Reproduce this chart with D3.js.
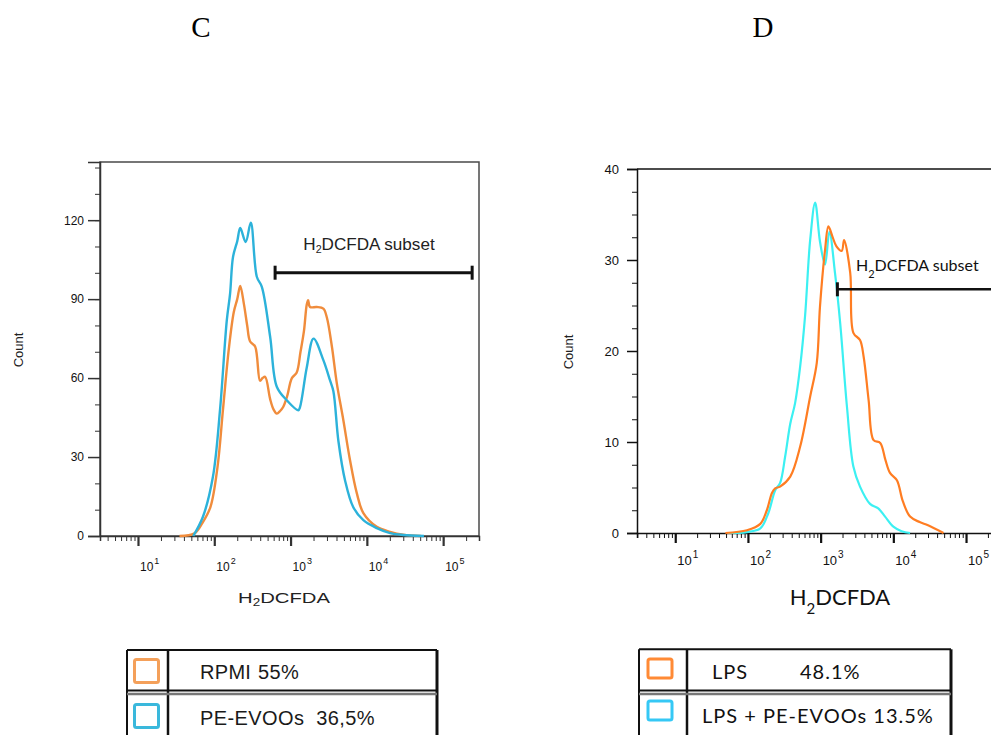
<!DOCTYPE html>
<html>
<head>
<meta charset="utf-8">
<script src="https://cdn.jsdelivr.net/npm/d3@7"></script>
<style>
  body { margin: 0; background: #fff; }
  svg { display: block; }
</style>
</head>
<body>
<svg id="canvas" width="991" height="735"></svg>
<script>
// panel C : H2DCFDA intensity (x) and cell count (y)
const rpmiX = [35, 55, 70, 89, 110, 130, 155, 180, 200, 219, 245, 270, 294, 343, 398, 430, 464, 540, 600, 660, 730, 800, 900, 1040, 1200, 1350, 1500, 1630, 1700, 1800, 2200, 2690, 2990, 3480, 4040, 4920, 6000, 7380, 9000, 13500, 20200, 30000, 51000];
const rpmiY = [0, 1, 5, 11, 26, 48, 71, 85, 90, 95, 88, 80, 74, 72, 59, 60, 60.5, 52, 48, 46.5, 47.5, 49, 53, 60, 62, 70, 78, 88, 89.6, 87, 87, 86.4, 83, 72, 58, 44, 29, 16.3, 8.7, 3.5, 1.6, 0.5, 0];
const evooX = [53, 71, 96, 119, 146, 161, 176, 200, 219, 258, 301, 361, 420, 540, 660, 890, 1260, 1330, 1630, 2000, 2690, 3300, 3640, 4240, 5190, 6620, 9000, 13500, 20200, 30000, 56000];
const evooY = [0, 7.3, 22.5, 48, 82, 92, 106, 112, 117, 111.7, 119, 98.5, 94.7, 75.7, 56.7, 51.6, 47.8, 49, 64, 75, 66.8, 59, 55, 36, 21, 11, 6, 3, 1.1, 0.4, 0];

// panel D
const lpsX = [49, 97, 148, 182, 214, 237, 277, 382, 523, 718, 885, 980, 1150, 1280, 1450, 1650, 1950, 2100, 2550, 2820, 3480, 3900, 4570, 5350, 6600, 7800, 9000, 11200, 13500, 17000, 23000, 30000, 49000];
const lpsY = [0, 0.3, 1, 2.5, 4.4, 4.9, 5.1, 6.2, 9.5, 15, 18.7, 24.9, 31.1, 33.7, 32.6, 31.5, 31, 32.2, 28.6, 22, 21.2, 19.4, 14.6, 10.2, 9.9, 8, 6.6, 5.8, 3.5, 1.8, 1.2, 0.85, 0];
const lpsEvooX = [52, 97, 148, 191, 237, 277, 325, 382, 446, 523, 610, 718, 840, 980, 1150, 1320, 1580, 1860, 2300, 2820, 3480, 4780, 6200, 7700, 10000, 13000, 17000];
const lpsEvooY = [0, 0.1, 0.5, 2.2, 4.7, 5.5, 8.4, 12, 14.3, 18.3, 23.8, 32.2, 36.3, 32, 29.5, 33.1, 28.5, 23, 13.9, 7.3, 5.1, 3.2, 2.7, 1.8, 0.7, 0.2, 0];

const countTicksC = [0, 30, 60, 90, 120];
const countTicksD = [0, 10, 20, 30, 40];
const decades = [1, 2, 3, 4, 5];
const legendC = ["RPMI 55%", "PE-EVOOs 36,5%"];
const legendD = [["LPS", "48.1%"], ["LPS + PE-EVOOs", "13.5%"]];

const svg = d3.select("#canvas");
const sans = "'Liberation Sans', Arial, sans-serif";
const cal = "Lato, 'Open Sans', sans-serif";

// minor log ticks 1..9 x 10^k
function minorTicks(domain) {
    let out = [];
    for (let k = 0; k <= 5; k++) {
        for (let m = 1; m <= 9; m++) {
            const v = m * Math.pow(10, k);
            if (v >= domain[0] && v <= domain[1]) out.push(v);
        }
    }
    return out;
}

function drawPanel(o) {
    const x = d3.scaleLog().domain(o.xDomain).range([o.left, o.right]);
    const y = d3.scaleLinear().domain(o.yDomain).range([o.bottom, o.top]);
    const g = svg.append("g");

    // frame
    if (o.box) {
        g.append("rect")
            .attr("x", o.left).attr("y", o.top)
            .attr("width", o.right - o.left).attr("height", o.bottom - o.top)
            .attr("fill", "none").attr("stroke", "#4a4a4a").attr("stroke-width", 1.5);
    } else {
        g.append("line")
            .attr("x1", o.left).attr("x2", 991).attr("y1", o.top).attr("y2", o.top)
            .attr("stroke", "#111").attr("stroke-width", 1.5);
    }

    // y axis
    const ya = g.append("g").attr("transform", `translate(${o.left},0)`)
        .call(d3.axisLeft(y).tickValues(o.yMinor).tickSize(5).tickFormat(""));
    ya.select(".domain").remove();
    const yb = g.append("g").attr("transform", `translate(${o.left},0)`)
        .call(d3.axisLeft(y).tickValues(o.yTicks).tickSize(o.yMajorLen).tickPadding(o.yPad));
    yb.select(".domain").attr("stroke", o.axisColor).attr("stroke-width", 1.5);
    yb.selectAll(".tick line").attr("stroke-width", 1.5);
    yb.selectAll("text").attr("font-family", sans).attr("font-size", o.tickFont).attr("fill", "#111");
    g.selectAll(".tick line").attr("stroke", o.axisColor);

    // x axis
    const xa = g.append("g").attr("transform", `translate(0,${o.bottom})`)
        .call(d3.axisBottom(x).tickValues(minorTicks(o.xDomain)).tickSize(5).tickFormat(""));
    xa.select(".domain").attr("stroke", o.axisColor).attr("stroke-width", 1.5);
    xa.selectAll(".tick line").attr("stroke", o.axisColor);
    const xb = g.append("g").attr("transform", `translate(0,${o.bottom})`)
        .call(d3.axisBottom(x).tickValues(decades.map(d => Math.pow(10, d))).tickSize(10).tickFormat(""));
    xb.select(".domain").remove();
    xb.selectAll(".tick line").attr("stroke", o.axisColor).attr("stroke-width", 2.2);

    const lab = g.selectAll(".declab").data(decades).join("text")
        .attr("class", "declab")
        .attr("x", d => x(Math.pow(10, d)) + 2)
        .attr("y", o.bottom + o.xLabOff)
        .attr("font-family", sans).attr("font-size", o.tickFont).attr("fill", "#111");
    lab.append("tspan").text("10");
    lab.append("tspan").attr("dy", -7).attr("dx", 1).attr("font-size", o.tickFont - 3).text(d => d);

    // histograms
    const line = d3.line().x(d => x(d[0])).y(d => y(d[1])).curve(d3.curveCatmullRom.alpha(0.5));
    o.series.forEach(s => {
        g.append("path")
            .datum(d3.zip(s.x, s.y))
            .attr("d", line)
            .attr("fill", "none").attr("stroke", s.color)
            .attr("stroke-width", o.lineWidth).attr("stroke-linejoin", "round");
    });
    return { x, y, g };
}

// ---------- panel C ----------
const C = drawPanel({
    left: 100, right: 479, top: 162, bottom: 536,
    xDomain: [Math.pow(10, 0.502), Math.pow(10, 5.47)], yDomain: [0, 142.1],
    yTicks: countTicksC, yMinor: d3.range(0, 141, 10), yMajorLen: 12, yPad: 4,
    tickFont: 12, xLabOff: 35, axisColor: "#333", box: true, lineWidth: 2.4,
    series: [
        { x: rpmiX, y: rpmiY, color: "#f08c3c" },
        { x: evooX, y: evooY, color: "#2cb2da" }
    ]
});

// ---------- panel D ----------
const D = drawPanel({
    left: 637, right: 1005, top: 169, bottom: 533,
    xDomain: [Math.pow(10, 0.474), Math.pow(10, 5.536)], yDomain: [0, 40],
    yTicks: countTicksD, yMinor: d3.range(0, 40.1, 2.5), yMajorLen: 10, yPad: 8,
    tickFont: 13, xLabOff: 32, axisColor: "#111", box: false, lineWidth: 2.2,
    series: [
        { x: lpsEvooX, y: lpsEvooY, color: "#3cf0f2" },
        { x: lpsX, y: lpsY, color: "#ff7d22" }
    ]
});

// titles
svg.append("text").attr("x", 201).attr("y", 37).attr("text-anchor", "middle")
    .attr("font-family", "'Liberation Serif', 'Times New Roman', serif").attr("font-size", 29).text("C");
svg.append("text").attr("x", 763).attr("y", 37).attr("text-anchor", "middle")
    .attr("font-family", "'Liberation Serif', 'Times New Roman', serif").attr("font-size", 29).text("D");

// axis titles
svg.append("text").attr("transform", "translate(23,350) rotate(-90)").attr("text-anchor", "middle")
    .attr("font-family", sans).attr("font-size", 13).attr("fill", "#222").text("Count");
svg.append("text").attr("transform", "translate(573,352) rotate(-90)").attr("text-anchor", "middle")
    .attr("font-family", sans).attr("font-size", 13).attr("fill", "#222").text("Count");

function h2dcfda(sel, rest, subSize, subDy) {
    sel.append("tspan").text("H");
    sel.append("tspan").attr("font-size", subSize).attr("dy", subDy).text("2");
    sel.append("tspan").attr("dy", -subDy).text("DCFDA" + rest);
}

const xtC = svg.append("text").attr("transform", "translate(284,603) scale(1.35,1)")
    .attr("text-anchor", "middle").attr("font-family", sans).attr("font-size", 15).attr("fill", "#222");
h2dcfda(xtC, "", 10, 3);
const xtD = svg.append("text").attr("x", 840).attr("y", 605)
    .attr("text-anchor", "middle").attr("font-family", cal).attr("font-size", 22).attr("fill", "#111");
h2dcfda(xtD, "", 15, 9);

// gates
function gate(g, x1, x2, yy, capH, w) {
    g.append("line").attr("x1", x1).attr("x2", x2).attr("y1", yy).attr("y2", yy)
        .attr("stroke", "#111").attr("stroke-width", w);
    [x1, x2].forEach(xx => {
        if (xx < 991) g.append("line").attr("x1", xx).attr("x2", xx)
            .attr("y1", yy - capH).attr("y2", yy + capH)
            .attr("stroke", "#111").attr("stroke-width", 3);
    });
}
gate(svg, C.x(627), C.x(240000), 272.7, 7, 3);
gate(svg, D.x(1700), 1000, 289.3, 7, 2.6);

const glC = svg.append("text").attr("transform", "translate(369,250) scale(1.07,1)")
    .attr("text-anchor", "middle").attr("font-family", sans).attr("font-size", 16).attr("fill", "#222");
h2dcfda(glC, " subset", 10, 3);
const glD = svg.append("text").attr("x", 856).attr("y", 270.7)
    .attr("font-family", cal).attr("font-size", 16).attr("fill", "#111");
h2dcfda(glD, " subset", 11, 7);

// legends
function legendBox(x0, x1, xDiv, top, rowY) {
    const lg = svg.append("g").attr("fill", "none").attr("stroke", "#111");
    lg.append("line").attr("x1", x0).attr("x2", x1).attr("y1", top).attr("y2", top).attr("stroke-width", 2);
    lg.append("line").attr("x1", x0).attr("x2", x0).attr("y1", top).attr("y2", 740).attr("stroke-width", 2);
    lg.append("line").attr("x1", xDiv).attr("x2", xDiv).attr("y1", top).attr("y2", 740).attr("stroke-width", 2.5);
    lg.append("line").attr("x1", x1).attr("x2", x1).attr("y1", top).attr("y2", 740).attr("stroke-width", 3);
    lg.append("line").attr("x1", x0).attr("x2", x1).attr("y1", rowY).attr("y2", rowY).attr("stroke-width", 2);
    lg.append("line").attr("x1", x0).attr("x2", x1).attr("y1", rowY + 3.5).attr("y2", rowY + 3.5)
        .attr("stroke", "#777").attr("stroke-width", 2.5);
    return lg;
}

legendBox(127, 437, 168, 650, 690.5);
[["#f4a05a", 658], ["#3ab8dc", 703]].forEach(([c, yy]) => {
    svg.append("rect").attr("x", 134.5).attr("y", yy + 1.5).attr("width", 24).attr("height", 23).attr("rx", 2)
        .attr("fill", "none").attr("stroke", c).attr("stroke-width", 3);
});
svg.selectAll(".legC").data(legendC).join("text").attr("class", "legC")
    .attr("x", 200).attr("y", (d, i) => i ? 725 : 679)
    .attr("font-family", sans).attr("font-size", 20)
    .attr("word-spacing", (d, i) => i ? 6 : 1)
    .attr("letter-spacing", (d, i) => i ? 0.4 : 0.3)
    .attr("fill", "#1a1a1a").text(d => d);

legendBox(639, 951, 687, 649.3, 690.5);
[["#ff8a35", 658], ["#35c8f5", 700]].forEach(([c, yy]) => {
    svg.append("rect").attr("x", 648).attr("y", yy + 1).attr("width", 24).attr("height", 19).attr("rx", 2)
        .attr("fill", "none").attr("stroke", c).attr("stroke-width", 3);
});
const ld = svg.append("g").attr("font-family", cal).attr("font-size", 20)
    .attr("letter-spacing", 1).attr("fill", "#111");
ld.append("text").attr("x", 712).attr("y", 679).text(legendD[0][0]);
ld.append("text").attr("x", 800).attr("y", 679).text(legendD[0][1]);
ld.append("text").attr("x", 702).attr("y", 723).text(legendD[1][0] + " " + legendD[1][1]);
</script>
</body>
</html>
